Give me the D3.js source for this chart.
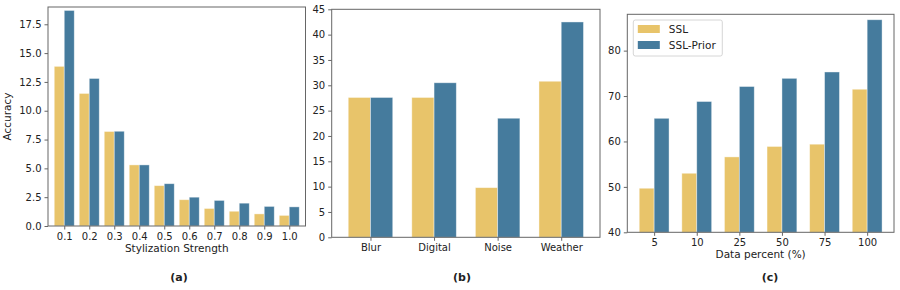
<!DOCTYPE html>
<html>
<head>
<meta charset="utf-8">
<script src="https://cdn.jsdelivr.net/npm/d3@7"></script>
<style>
  body { margin: 0; background: #fff; }
  svg text { font-family: "DejaVu Sans", sans-serif; fill: #222; }
  .axis path, .axis line { stroke: #666; }
  .axis text { font-size: 10px; }
</style>
</head>
<body>
<svg id="chart" width="900" height="290"></svg>
<script>
// panel (a)
const strengths = ['0.1','0.2','0.3','0.4','0.5','0.6','0.7','0.8','0.9','1.0'];
const sslA = [13.85, 11.5, 8.2, 5.3, 3.5, 2.28, 1.52, 1.28, 1.05, 0.92];
const priorA = [18.7, 12.8, 8.22, 5.3, 3.67, 2.5, 2.22, 1.98, 1.7, 1.66];
const ticksA = [0, 2.5, 5, 7.5, 10, 12.5, 15, 17.5];

// panel (b)
const corruptions = ['Blur','Digital','Noise','Weather'];
const sslB = [27.6, 27.6, 9.8, 30.8];
const priorB = [27.6, 30.5, 23.5, 42.5];
const ticksB = [0, 5, 10, 15, 20, 25, 30, 35, 40, 45];

// panel (c)
const percents = ['5','10','25','50','75','100'];
const sslC = [49.7, 53.0, 56.6, 58.9, 59.4, 71.5];
const priorC = [65.1, 68.8, 72.1, 73.9, 75.3, 86.8];
const ticksC = [40, 50, 60, 70, 80];

const seriesNames = ['SSL', 'SSL-Prior'];
const colors = ['#E8C46A', '#457B9D'];

const svg = d3.select('#chart');

// one grouped bar panel
function panel(opt) {
  const g = svg.append('g');
  const n = opt.cats.length;
  const x = d3.scaleLinear().domain([-opt.pad, n - 1 + opt.pad]).range([opt.left, opt.right]);
  const y = d3.scaleLinear().domain(opt.yDomain).range([opt.bottom, opt.top]);
  const bw = opt.bw; // width of one bar in category units

  [opt.a, opt.b].forEach((vals, si) => {
    g.append('g').selectAll('rect')
      .data(vals)
      .enter().append('rect')
        .attr('x', (d, i) => x(i - bw + si * bw))
        .attr('width', x(bw) - x(0))
        .attr('y', d => y(d))
        .attr('height', d => y(opt.yDomain[0]) - y(d))
        .attr('fill', colors[si])
        .attr('stroke', '#fff')
        .attr('stroke-opacity', 0.5)
        .attr('stroke-width', 0.8);
  });

  // frame
  g.append('rect')
    .attr('x', opt.left).attr('y', opt.top)
    .attr('width', opt.right - opt.left).attr('height', opt.bottom - opt.top)
    .attr('fill', 'none').attr('stroke', '#666').attr('stroke-width', 1);

  const xAxis = d3.axisBottom(x).tickValues(d3.range(n))
    .tickFormat(i => opt.cats[i]).tickSize(3.5).tickPadding(3);
  g.append('g').attr('class', 'axis')
    .attr('transform', `translate(0,${opt.bottom})`)
    .call(xAxis)
    .call(s => s.select('.domain').remove());

  const yAxis = d3.axisLeft(y).tickValues(opt.yTicks)
    .tickFormat(opt.yFmt).tickSize(3.5).tickPadding(3);
  g.append('g').attr('class', 'axis')
    .attr('transform', `translate(${opt.left},0)`)
    .call(yAxis)
    .call(s => s.select('.domain').remove());

  g.selectAll('.axis text').attr('fill', '#222').style('fill', '#222');

  if (opt.xLabel) {
    g.append('text')
      .attr('x', (opt.left + opt.right) / 2).attr('y', opt.bottom + 26)
      .attr('text-anchor', 'middle').attr('font-size', 10.5)
      .text(opt.xLabel);
  }
  if (opt.yLabel) {
    g.append('text')
      .attr('transform', `translate(${opt.left - 37},${(opt.top + opt.bottom) / 2}) rotate(-90)`)
      .attr('text-anchor', 'middle').attr('font-size', 10.5)
      .text(opt.yLabel);
  }
  g.append('text')
    .attr('x', opt.capX).attr('y', 281)
    .attr('text-anchor', 'middle').attr('font-size', 11).attr('font-weight', 'bold')
    .text(opt.caption);

  return { g, x, y };
}

panel({
  cats: strengths, a: sslA, b: priorA,
  left: 48, right: 305.5, top: 7, bottom: 226,
  pad: 0.65, bw: 0.4, yDomain: [0, 19], yTicks: ticksA, yFmt: d3.format('.1f'),
  xLabel: 'Stylization Strength', yLabel: 'Accuracy', caption: '(a)', capX: 179
});

panel({
  cats: corruptions, a: sslB, b: priorB,
  left: 331.7, right: 600, top: 9.3, bottom: 237.3,
  pad: 0.61, bw: 0.35, yDomain: [0, 45], yTicks: ticksB, yFmt: d3.format('d'),
  caption: '(b)', capX: 462
});

const pc = panel({
  cats: percents, a: sslC, b: priorC,
  left: 627.3, right: 894, top: 14.3, bottom: 232.3,
  pad: 0.63, bw: 0.35, yDomain: [40, 88], yTicks: ticksC, yFmt: d3.format('d'),
  xLabel: 'Data percent (%)', caption: '(c)', capX: 770
});

// legend in panel (c)
const lg = pc.g.append('g').attr('transform', 'translate(633.3,20)');
lg.append('rect')
  .attr('width', 89).attr('height', 36).attr('rx', 2)
  .attr('fill', '#fff').attr('fill-opacity', 0.8)
  .attr('stroke', '#ccc').attr('stroke-width', 0.8);
seriesNames.forEach((name, i) => {
  lg.append('rect')
    .attr('x', 4.5).attr('y', 5 + i * 16)
    .attr('width', 22).attr('height', 8)
    .attr('fill', colors[i]);
  lg.append('text')
    .attr('x', 35.5).attr('y', 9 + i * 16).attr('dy', '0.35em')
    .attr('font-size', 10.5)
    .text(name);
});
</script>
</body>
</html>
